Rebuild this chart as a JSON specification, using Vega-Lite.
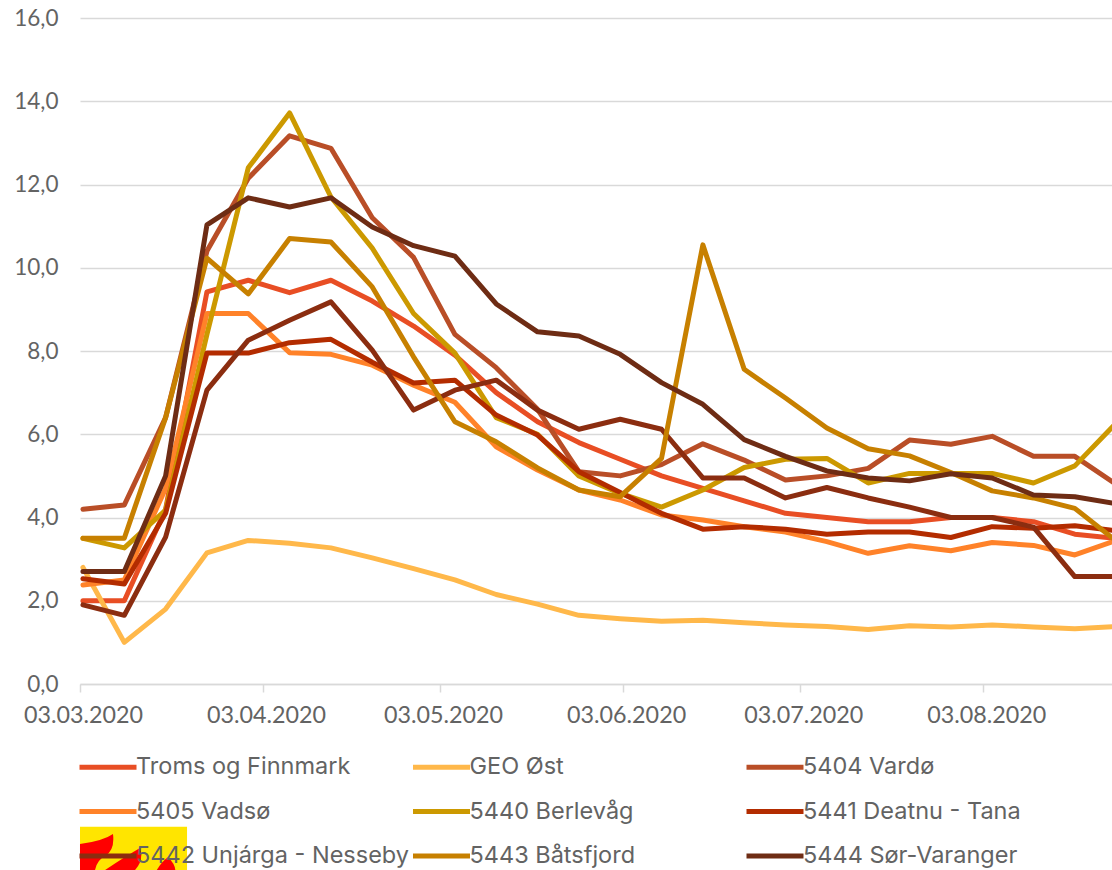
{"$schema":"https://vega.github.io/schema/vega-lite/v6.json","width":1032,"height":666,"autosize":{"type":"none"},"padding":{"left":80,"top":18,"right":0,"bottom":186},"background":"white","config":{"view":{"stroke":null},"font":"Lato"},
"layer":[
{"data":{"values":[
{"s":"Troms og Finnmark","d":"2020-03-03","v":2.0},{"s":"Troms og Finnmark","d":"2020-03-10","v":2.0},{"s":"Troms og Finnmark","d":"2020-03-17","v":4.2},{"s":"Troms og Finnmark","d":"2020-03-24","v":9.42},{"s":"Troms og Finnmark","d":"2020-03-31","v":9.7},{"s":"Troms og Finnmark","d":"2020-04-07","v":9.4},{"s":"Troms og Finnmark","d":"2020-04-14","v":9.7},{"s":"Troms og Finnmark","d":"2020-04-21","v":9.2},{"s":"Troms og Finnmark","d":"2020-04-28","v":8.6},{"s":"Troms og Finnmark","d":"2020-05-05","v":7.9},{"s":"Troms og Finnmark","d":"2020-05-12","v":7.0},{"s":"Troms og Finnmark","d":"2020-05-19","v":6.3},{"s":"Troms og Finnmark","d":"2020-05-26","v":5.8},{"s":"Troms og Finnmark","d":"2020-06-02","v":5.4},{"s":"Troms og Finnmark","d":"2020-06-09","v":5.0},{"s":"Troms og Finnmark","d":"2020-06-16","v":4.7},{"s":"Troms og Finnmark","d":"2020-06-23","v":4.4},{"s":"Troms og Finnmark","d":"2020-06-30","v":4.1},{"s":"Troms og Finnmark","d":"2020-07-07","v":4.0},{"s":"Troms og Finnmark","d":"2020-07-14","v":3.9},{"s":"Troms og Finnmark","d":"2020-07-21","v":3.9},{"s":"Troms og Finnmark","d":"2020-07-28","v":4.0},{"s":"Troms og Finnmark","d":"2020-08-04","v":4.0},{"s":"Troms og Finnmark","d":"2020-08-11","v":3.9},{"s":"Troms og Finnmark","d":"2020-08-18","v":3.6},{"s":"Troms og Finnmark","d":"2020-08-25","v":3.5},
{"s":"GEO Øst","d":"2020-03-03","v":2.8},{"s":"GEO Øst","d":"2020-03-10","v":1.0},{"s":"GEO Øst","d":"2020-03-17","v":1.8},{"s":"GEO Øst","d":"2020-03-24","v":3.15},{"s":"GEO Øst","d":"2020-03-31","v":3.45},{"s":"GEO Øst","d":"2020-04-07","v":3.38},{"s":"GEO Øst","d":"2020-04-14","v":3.27},{"s":"GEO Øst","d":"2020-04-21","v":3.03},{"s":"GEO Øst","d":"2020-04-28","v":2.77},{"s":"GEO Øst","d":"2020-05-05","v":2.5},{"s":"GEO Øst","d":"2020-05-12","v":2.15},{"s":"GEO Øst","d":"2020-05-19","v":1.92},{"s":"GEO Øst","d":"2020-05-26","v":1.65},{"s":"GEO Øst","d":"2020-06-02","v":1.57},{"s":"GEO Øst","d":"2020-06-09","v":1.51},{"s":"GEO Øst","d":"2020-06-16","v":1.53},{"s":"GEO Øst","d":"2020-06-23","v":1.47},{"s":"GEO Øst","d":"2020-06-30","v":1.42},{"s":"GEO Øst","d":"2020-07-07","v":1.38},{"s":"GEO Øst","d":"2020-07-14","v":1.31},{"s":"GEO Øst","d":"2020-07-21","v":1.4},{"s":"GEO Øst","d":"2020-07-28","v":1.37},{"s":"GEO Øst","d":"2020-08-04","v":1.42},{"s":"GEO Øst","d":"2020-08-11","v":1.37},{"s":"GEO Øst","d":"2020-08-18","v":1.33},{"s":"GEO Øst","d":"2020-08-25","v":1.38},
{"s":"5404 Vardø","d":"2020-03-03","v":4.2},{"s":"5404 Vardø","d":"2020-03-10","v":4.3},{"s":"5404 Vardø","d":"2020-03-17","v":6.4},{"s":"5404 Vardø","d":"2020-03-24","v":10.4},{"s":"5404 Vardø","d":"2020-03-31","v":12.15},{"s":"5404 Vardø","d":"2020-04-07","v":13.17},{"s":"5404 Vardø","d":"2020-04-14","v":12.87},{"s":"5404 Vardø","d":"2020-04-21","v":11.2},{"s":"5404 Vardø","d":"2020-04-28","v":10.25},{"s":"5404 Vardø","d":"2020-05-05","v":8.4},{"s":"5404 Vardø","d":"2020-05-12","v":7.6},{"s":"5404 Vardø","d":"2020-05-19","v":6.6},{"s":"5404 Vardø","d":"2020-05-26","v":5.1},{"s":"5404 Vardø","d":"2020-06-02","v":5.0},{"s":"5404 Vardø","d":"2020-06-09","v":5.27},{"s":"5404 Vardø","d":"2020-06-16","v":5.77},{"s":"5404 Vardø","d":"2020-06-23","v":5.38},{"s":"5404 Vardø","d":"2020-06-30","v":4.9},{"s":"5404 Vardø","d":"2020-07-07","v":5.0},{"s":"5404 Vardø","d":"2020-07-14","v":5.18},{"s":"5404 Vardø","d":"2020-07-21","v":5.86},{"s":"5404 Vardø","d":"2020-07-28","v":5.76},{"s":"5404 Vardø","d":"2020-08-04","v":5.95},{"s":"5404 Vardø","d":"2020-08-11","v":5.47},{"s":"5404 Vardø","d":"2020-08-18","v":5.47},{"s":"5404 Vardø","d":"2020-08-25","v":4.8},
{"s":"5405 Vadsø","d":"2020-03-03","v":2.38},{"s":"5405 Vadsø","d":"2020-03-10","v":2.5},{"s":"5405 Vadsø","d":"2020-03-17","v":4.7},{"s":"5405 Vadsø","d":"2020-03-24","v":8.9},{"s":"5405 Vadsø","d":"2020-03-31","v":8.9},{"s":"5405 Vadsø","d":"2020-04-07","v":7.96},{"s":"5405 Vadsø","d":"2020-04-14","v":7.92},{"s":"5405 Vadsø","d":"2020-04-21","v":7.66},{"s":"5405 Vadsø","d":"2020-04-28","v":7.18},{"s":"5405 Vadsø","d":"2020-05-05","v":6.77},{"s":"5405 Vadsø","d":"2020-05-12","v":5.7},{"s":"5405 Vadsø","d":"2020-05-19","v":5.14},{"s":"5405 Vadsø","d":"2020-05-26","v":4.66},{"s":"5405 Vadsø","d":"2020-06-02","v":4.42},{"s":"5405 Vadsø","d":"2020-06-09","v":4.06},{"s":"5405 Vadsø","d":"2020-06-16","v":3.94},{"s":"5405 Vadsø","d":"2020-06-23","v":3.78},{"s":"5405 Vadsø","d":"2020-06-30","v":3.65},{"s":"5405 Vadsø","d":"2020-07-07","v":3.42},{"s":"5405 Vadsø","d":"2020-07-14","v":3.14},{"s":"5405 Vadsø","d":"2020-07-21","v":3.32},{"s":"5405 Vadsø","d":"2020-07-28","v":3.2},{"s":"5405 Vadsø","d":"2020-08-04","v":3.4},{"s":"5405 Vadsø","d":"2020-08-11","v":3.33},{"s":"5405 Vadsø","d":"2020-08-18","v":3.1},{"s":"5405 Vadsø","d":"2020-08-25","v":3.45},
{"s":"5440 Berlevåg","d":"2020-03-03","v":3.5},{"s":"5440 Berlevåg","d":"2020-03-10","v":3.27},{"s":"5440 Berlevåg","d":"2020-03-17","v":4.18},{"s":"5440 Berlevåg","d":"2020-03-24","v":8.4},{"s":"5440 Berlevåg","d":"2020-03-31","v":12.4},{"s":"5440 Berlevåg","d":"2020-04-07","v":13.72},{"s":"5440 Berlevåg","d":"2020-04-14","v":11.7},{"s":"5440 Berlevåg","d":"2020-04-21","v":10.47},{"s":"5440 Berlevåg","d":"2020-04-28","v":8.9},{"s":"5440 Berlevåg","d":"2020-05-05","v":7.95},{"s":"5440 Berlevåg","d":"2020-05-12","v":6.4},{"s":"5440 Berlevåg","d":"2020-05-19","v":6.0},{"s":"5440 Berlevåg","d":"2020-05-26","v":5.0},{"s":"5440 Berlevåg","d":"2020-06-02","v":4.58},{"s":"5440 Berlevåg","d":"2020-06-09","v":4.25},{"s":"5440 Berlevåg","d":"2020-06-16","v":4.66},{"s":"5440 Berlevåg","d":"2020-06-23","v":5.2},{"s":"5440 Berlevåg","d":"2020-06-30","v":5.4},{"s":"5440 Berlevåg","d":"2020-07-07","v":5.42},{"s":"5440 Berlevåg","d":"2020-07-14","v":4.83},{"s":"5440 Berlevåg","d":"2020-07-21","v":5.06},{"s":"5440 Berlevåg","d":"2020-07-28","v":5.06},{"s":"5440 Berlevåg","d":"2020-08-04","v":5.06},{"s":"5440 Berlevåg","d":"2020-08-11","v":4.83},{"s":"5440 Berlevåg","d":"2020-08-18","v":5.24},{"s":"5440 Berlevåg","d":"2020-08-25","v":6.27},
{"s":"5441 Deatnu - Tana","d":"2020-03-03","v":2.53},{"s":"5441 Deatnu - Tana","d":"2020-03-10","v":2.4},{"s":"5441 Deatnu - Tana","d":"2020-03-17","v":4.1},{"s":"5441 Deatnu - Tana","d":"2020-03-24","v":7.95},{"s":"5441 Deatnu - Tana","d":"2020-03-31","v":7.95},{"s":"5441 Deatnu - Tana","d":"2020-04-07","v":8.2},{"s":"5441 Deatnu - Tana","d":"2020-04-14","v":8.28},{"s":"5441 Deatnu - Tana","d":"2020-04-21","v":7.73},{"s":"5441 Deatnu - Tana","d":"2020-04-28","v":7.23},{"s":"5441 Deatnu - Tana","d":"2020-05-05","v":7.3},{"s":"5441 Deatnu - Tana","d":"2020-05-12","v":6.46},{"s":"5441 Deatnu - Tana","d":"2020-05-19","v":5.98},{"s":"5441 Deatnu - Tana","d":"2020-05-26","v":5.1},{"s":"5441 Deatnu - Tana","d":"2020-06-02","v":4.6},{"s":"5441 Deatnu - Tana","d":"2020-06-09","v":4.1},{"s":"5441 Deatnu - Tana","d":"2020-06-16","v":3.72},{"s":"5441 Deatnu - Tana","d":"2020-06-23","v":3.78},{"s":"5441 Deatnu - Tana","d":"2020-06-30","v":3.72},{"s":"5441 Deatnu - Tana","d":"2020-07-07","v":3.6},{"s":"5441 Deatnu - Tana","d":"2020-07-14","v":3.65},{"s":"5441 Deatnu - Tana","d":"2020-07-21","v":3.65},{"s":"5441 Deatnu - Tana","d":"2020-07-28","v":3.52},{"s":"5441 Deatnu - Tana","d":"2020-08-04","v":3.78},{"s":"5441 Deatnu - Tana","d":"2020-08-11","v":3.74},{"s":"5441 Deatnu - Tana","d":"2020-08-18","v":3.8},{"s":"5441 Deatnu - Tana","d":"2020-08-25","v":3.68},
{"s":"5442 Unjárga - Nesseby","d":"2020-03-03","v":1.9},{"s":"5442 Unjárga - Nesseby","d":"2020-03-10","v":1.65},{"s":"5442 Unjárga - Nesseby","d":"2020-03-17","v":3.53},{"s":"5442 Unjárga - Nesseby","d":"2020-03-24","v":7.06},{"s":"5442 Unjárga - Nesseby","d":"2020-03-31","v":8.26},{"s":"5442 Unjárga - Nesseby","d":"2020-04-07","v":8.74},{"s":"5442 Unjárga - Nesseby","d":"2020-04-14","v":9.18},{"s":"5442 Unjárga - Nesseby","d":"2020-04-21","v":8.02},{"s":"5442 Unjárga - Nesseby","d":"2020-04-28","v":6.58},{"s":"5442 Unjárga - Nesseby","d":"2020-05-05","v":7.06},{"s":"5442 Unjárga - Nesseby","d":"2020-05-12","v":7.3},{"s":"5442 Unjárga - Nesseby","d":"2020-05-19","v":6.58},{"s":"5442 Unjárga - Nesseby","d":"2020-05-26","v":6.12},{"s":"5442 Unjárga - Nesseby","d":"2020-06-02","v":6.36},{"s":"5442 Unjárga - Nesseby","d":"2020-06-09","v":6.12},{"s":"5442 Unjárga - Nesseby","d":"2020-06-16","v":4.95},{"s":"5442 Unjárga - Nesseby","d":"2020-06-23","v":4.95},{"s":"5442 Unjárga - Nesseby","d":"2020-06-30","v":4.47},{"s":"5442 Unjárga - Nesseby","d":"2020-07-07","v":4.72},{"s":"5442 Unjárga - Nesseby","d":"2020-07-14","v":4.47},{"s":"5442 Unjárga - Nesseby","d":"2020-07-21","v":4.25},{"s":"5442 Unjárga - Nesseby","d":"2020-07-28","v":4.0},{"s":"5442 Unjárga - Nesseby","d":"2020-08-04","v":4.0},{"s":"5442 Unjárga - Nesseby","d":"2020-08-11","v":3.77},{"s":"5442 Unjárga - Nesseby","d":"2020-08-18","v":2.58},{"s":"5442 Unjárga - Nesseby","d":"2020-08-25","v":2.58},
{"s":"5443 Båtsfjord","d":"2020-03-03","v":3.5},{"s":"5443 Båtsfjord","d":"2020-03-10","v":3.5},{"s":"5443 Båtsfjord","d":"2020-03-17","v":6.4},{"s":"5443 Båtsfjord","d":"2020-03-24","v":10.23},{"s":"5443 Båtsfjord","d":"2020-03-31","v":9.37},{"s":"5443 Båtsfjord","d":"2020-04-07","v":10.7},{"s":"5443 Båtsfjord","d":"2020-04-14","v":10.62},{"s":"5443 Båtsfjord","d":"2020-04-21","v":9.54},{"s":"5443 Båtsfjord","d":"2020-04-28","v":7.86},{"s":"5443 Båtsfjord","d":"2020-05-05","v":6.3},{"s":"5443 Båtsfjord","d":"2020-05-12","v":5.82},{"s":"5443 Båtsfjord","d":"2020-05-19","v":5.19},{"s":"5443 Båtsfjord","d":"2020-05-26","v":4.66},{"s":"5443 Båtsfjord","d":"2020-06-02","v":4.5},{"s":"5443 Båtsfjord","d":"2020-06-09","v":5.42},{"s":"5443 Båtsfjord","d":"2020-06-16","v":10.55},{"s":"5443 Båtsfjord","d":"2020-06-23","v":7.56},{"s":"5443 Båtsfjord","d":"2020-06-30","v":6.87},{"s":"5443 Båtsfjord","d":"2020-07-07","v":6.15},{"s":"5443 Båtsfjord","d":"2020-07-14","v":5.65},{"s":"5443 Båtsfjord","d":"2020-07-21","v":5.48},{"s":"5443 Båtsfjord","d":"2020-07-28","v":5.08},{"s":"5443 Båtsfjord","d":"2020-08-04","v":4.64},{"s":"5443 Båtsfjord","d":"2020-08-11","v":4.47},{"s":"5443 Båtsfjord","d":"2020-08-18","v":4.22},{"s":"5443 Båtsfjord","d":"2020-08-25","v":3.44},
{"s":"5444 Sør-Varanger","d":"2020-03-03","v":2.7},{"s":"5444 Sør-Varanger","d":"2020-03-10","v":2.7},{"s":"5444 Sør-Varanger","d":"2020-03-17","v":5.0},{"s":"5444 Sør-Varanger","d":"2020-03-24","v":11.03},{"s":"5444 Sør-Varanger","d":"2020-03-31","v":11.68},{"s":"5444 Sør-Varanger","d":"2020-04-07","v":11.46},{"s":"5444 Sør-Varanger","d":"2020-04-14","v":11.68},{"s":"5444 Sør-Varanger","d":"2020-04-21","v":10.98},{"s":"5444 Sør-Varanger","d":"2020-04-28","v":10.53},{"s":"5444 Sør-Varanger","d":"2020-05-05","v":10.28},{"s":"5444 Sør-Varanger","d":"2020-05-12","v":9.13},{"s":"5444 Sør-Varanger","d":"2020-05-19","v":8.46},{"s":"5444 Sør-Varanger","d":"2020-05-26","v":8.36},{"s":"5444 Sør-Varanger","d":"2020-06-02","v":7.92},{"s":"5444 Sør-Varanger","d":"2020-06-09","v":7.24},{"s":"5444 Sør-Varanger","d":"2020-06-16","v":6.72},{"s":"5444 Sør-Varanger","d":"2020-06-23","v":5.87},{"s":"5444 Sør-Varanger","d":"2020-06-30","v":5.47},{"s":"5444 Sør-Varanger","d":"2020-07-07","v":5.12},{"s":"5444 Sør-Varanger","d":"2020-07-14","v":4.95},{"s":"5444 Sør-Varanger","d":"2020-07-21","v":4.88},{"s":"5444 Sør-Varanger","d":"2020-07-28","v":5.05},{"s":"5444 Sør-Varanger","d":"2020-08-04","v":4.95},{"s":"5444 Sør-Varanger","d":"2020-08-11","v":4.54},{"s":"5444 Sør-Varanger","d":"2020-08-18","v":4.5},{"s":"5444 Sør-Varanger","d":"2020-08-25","v":4.33}
]},
"mark":{"type":"line","strokeWidth":5,"strokeJoin":"round","strokeCap":"round","clip":true},
"encoding":{"x":{"field":"d","type":"temporal","title":null,"scale":{"type":"utc","domain":[1583150400000,1598253120000]},"axis":{"values":[1583193600000,1585872000000,1588464000000,1591142400000,1593734400000,1596412800000],"labelExpr":"utcFormat(datum.value,'%d.%m.%Y')","title":null,"grid":false,"domainColor":"#D9D9D9","domainWidth":1.5,"tickColor":"#D9D9D9","tickWidth":1.5,"tickSize":8,"tickOffset":-3,"labelOffset":3,"labelColor":"#636363","labelFontSize":23.3,"labelPadding":12,"labelOverlap":false,"labelFlush":false,"labelFont":"Lato"}},
"y":{"field":"v","type":"quantitative","title":null,"scale":{"domain":[0,16],"nice":false},"axis":{"values":[0,2,4,6,8,10,12,14,16],"title":null,"grid":true,"gridColor":"#D9D9D9","gridWidth":1.5,"domain":false,"ticks":false,"labelExpr":"replace(format(datum.value,'.1f'),'.',',')","labelColor":"#636363","labelFontSize":22.5,"labelPadding":22,"labelFont":"Lato"}},
"color":{"field":"s","type":"nominal","scale":{"domain":["Troms og Finnmark","5405 Vadsø","5442 Unjárga - Nesseby","GEO Øst","5440 Berlevåg","5443 Båtsfjord","5404 Vardø","5441 Deatnu - Tana","5444 Sør-Varanger"],"range":["#E84E24","#FF8229","#8B2D10","#FFB84A","#CC9900","#C78000","#B94E27","#B32C00","#6E2C14"]},
"legend":{"title":null,"orient":"none","legendX":-3,"legendY":718,"columns":3,"gridAlign":"all","symbolType":"stroke","symbolSize":3249,"symbolStrokeWidth":5,"labelFontSize":23.5,"labelColor":"#636363","labelFont":"Inter","labelOffset":-3,"columnPadding":-6.5,"rowPadding":1.5,"padding":0,"labelLimit":400}}}},
{"data":{"values":[{}]},"mark":{"type":"rect","color":"#FFE500"},"encoding":{"x":{"datum":1583150400000,"type":"temporal"},"x2":{"datum":1584716832000},"y":{"datum":-3.43,"type":"quantitative"},"y2":{"datum":-5}}},
{"data":{"values":[{}]},"mark":{"type":"point","shape":"M0.9 -0.8 Q0.4 -0.45 -0.75 -0.3 L-0.75 1 L0 1 Q0.1 0.5 0.5 0.3 Q1 0 0.9 -0.8 Z","size":1600,"filled":true,"color":"#FF0000","opacity":1},"encoding":{"x":{"datum":1583369856000,"type":"temporal"},"y":{"datum":-3.99,"type":"quantitative"}}},
{"data":{"values":[{}]},"mark":{"type":"point","shape":"M1 -0.6 Q0.3 -0.2 -0.75 0.5 L0.75 0.5 Q1.2 0 1 -0.6 Z","size":1600,"filled":true,"color":"#FF0000","opacity":1},"encoding":{"x":{"datum":1583736192000,"type":"temporal"},"y":{"datum":-4.23,"type":"quantitative"}}},
{"data":{"values":[{}]},"mark":{"type":"point","shape":"M0.15 -0.45 Q-0.3 -0.1 -0.5 0.4 L0.5 0.4 Q0.6 0 0.15 -0.45 Z","size":1600,"filled":true,"color":"#FF0000","opacity":1},"encoding":{"x":{"datum":1584394560000,"type":"temporal"},"y":{"datum":-4.37,"type":"quantitative"}}}
]}
